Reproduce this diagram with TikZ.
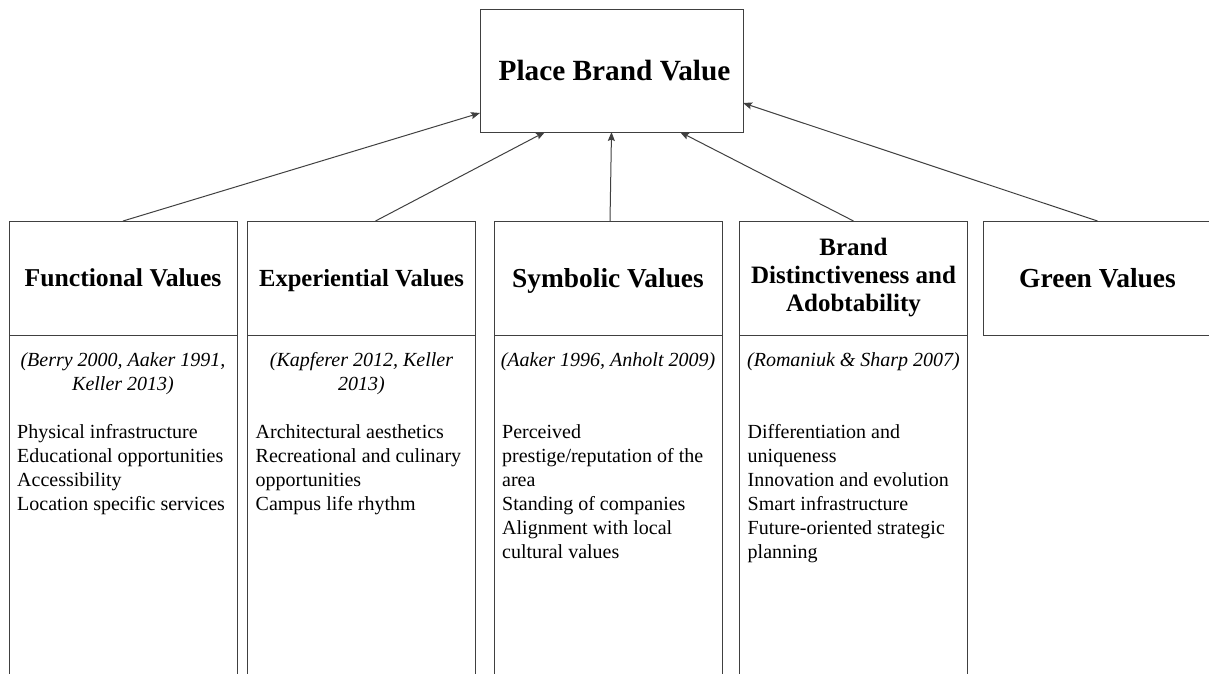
\documentclass[tikz,border=0pt]{standalone}
\usepackage{fontspec}
\setmainfont{Liberation Serif}
\usetikzlibrary{positioning,arrows.meta}

\tikzset{
  frame/.style={draw=black!75, line width=1pt, outer sep=0pt, minimum width=228pt},
  head/.style={frame, minimum height=114pt, align=center,
    font=\fontsize{#1}{28}\selectfont\bfseries},
  head/.default=25,
  bodybox/.style={frame, minimum height=370pt},
  cite/.style={inner sep=0pt, anchor=north, align=center,
    font=\fontsize{20}{24}\selectfont\itshape},
  items/.style={inner sep=0pt, align=left, font=\fontsize{20}{24}\selectfont},
  link/.style={draw=black!75, line width=1pt, -{Stealth[length=9pt,width=7pt,inset=1.5pt]}}
}

\begin{document}
\begin{tikzpicture}[x=1pt, y=-1pt]
    \useasboundingbox (0,0) rectangle (1209,673);
    \clip (0,0) rectangle (1209,673);

    % Top box
    \node[frame, minimum width=263pt, minimum height=123pt,
      font=\fontsize{29.3}{32}\selectfont\bfseries] (pbv) at (611.5,70.5) {\hspace*{6pt}Place Brand Value};

    % Column heads (titles with descenders sit a bit lower)
    \node[head=25.7] (fun) at (123,278) {Functional Values};
    \node[head=24.6, text depth=0pt] (exp) at (361.5,278) {Experiential Values};
    \node[head=27.4, text depth=0pt] (sym) at (608,278) {Symbolic Values};
    \node[head] (dis) at (853.5,278) {Brand\\Distinctiveness and\\Adobtability};
    \node[head=27.5] (grn) at (1097.5,278) {Green Values};

    % Column bodies
    \foreach \c in {fun,exp,sym,dis} \node[bodybox, below=0pt of \c] (\c body) {};

    % Sources
    \node[cite, below=17pt of fun.south] (funcite) {(Berry 2000, Aaker 1991,\\Keller 2013)};
    \node[cite, below=17pt of exp.south] (expcite) {(Kapferer 2012, Keller\\2013)};
    \node[cite, below=17pt of sym.south] (symcite) {(Aaker 1996, Anholt 2009)};
    \node[cite, below=17pt of dis.south] (discite) {(Romaniuk \& Sharp 2007)};

    % Items
    \node[items, below right=89pt and 8pt of fun.south west] (funlist)
      {Physical infrastructure\\Educational opportunities\\Accessibility\\Location specific services};
    \node[items, below right=89pt and 8pt of exp.south west] (explist)
      {Architectural aesthetics\\Recreational and culinary\\opportunities\\Campus life rhythm};
    \node[items, below right=89pt and 8pt of sym.south west] (symlist)
      {Perceived\\prestige/reputation of the\\area\\Standing of companies\\Alignment with local\\cultural values};
    \node[items, below right=89pt and 8pt of dis.south west] (dislist)
      {Differentiation and\\uniqueness\\Innovation and evolution\\Smart infrastructure\\Future-oriented strategic\\planning};

    % Arrows to the top box
    \draw[link] (fun.north) -- ([yshift=19pt]pbv.south west);
    \draw[link] ([xshift=14pt]exp.north) -- ([xshift=65pt]pbv.south west);
    \draw[link] ([xshift=2pt]sym.north) -- (pbv.south);
    \draw[link] (dis.north) -- ([xshift=200pt]pbv.south west);
    \draw[link] (grn.north) -- ([yshift=29pt]pbv.south east);
\end{tikzpicture}
\end{document}
